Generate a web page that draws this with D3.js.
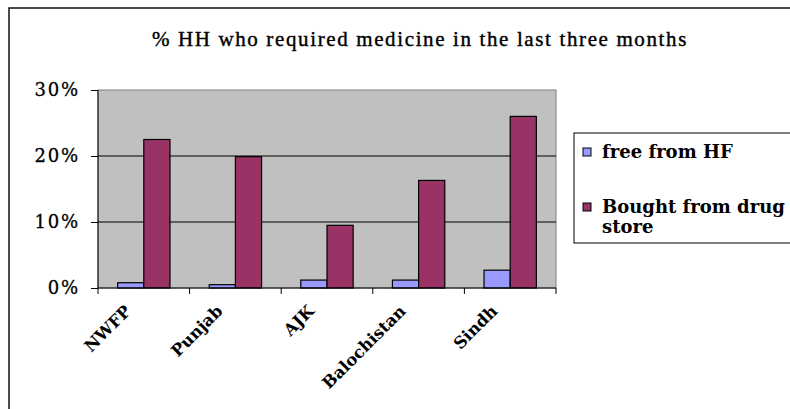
<!DOCTYPE html>
<html><head><meta charset="utf-8">
<script src="https://cdn.jsdelivr.net/npm/d3@7"></script>
<style>body{margin:0;background:#fff}svg{display:block}</style>
</head><body>
<script>
const categories = ["NWFP","Punjab","AJK","Balochistan","Sindh"];
const seriesNames = ["free from HF","Bought from drug store"];
const freeFromHF = [0.8, 0.5, 1.2, 1.2, 2.7];
const boughtFromStore = [22.5, 19.9, 9.5, 16.3, 26.0];
const yTicks = [0, 10, 20, 30];
const colors = ["#9999FF","#993366"];
const title = "% HH who required medicine in the last three months";

const W = 790, H = 409;
const svg = d3.select("body").append("svg").attr("width", W).attr("height", H);
const font = "'DejaVu Serif', serif";
const font2 = "'Liberation Serif', serif";

// outer frame
svg.append("rect").attr("x",9).attr("y",8).attr("width",W).attr("height",H)
  .attr("fill","none").attr("stroke","#111").attr("stroke-width",1.5);

const tt = svg.append("text").attr("x",420).attr("y",46).attr("text-anchor","middle")
  .attr("font-family",font2).attr("font-size",21).attr("fill","#000")
  .attr("stroke","#000").attr("stroke-width",0.4).text(title);
const tw = tt.node().getComputedTextLength();
tt.attr("letter-spacing", Math.max(0, (536 - tw) / title.length));

const m = {l:98, r:556, t:90, b:288};
const x = d3.scaleBand().domain(categories).range([m.l, m.r]).paddingInner(0).paddingOuter(0);
const bw = x.bandwidth()/3.5;
const xs = d3.scaleBand().domain([0,1]).range([0.75*bw, 2.75*bw]);
const y = d3.scaleLinear().domain([0,30]).range([m.b, m.t]);

svg.append("rect").attr("x",m.l).attr("y",m.t).attr("width",m.r-m.l).attr("height",m.b-m.t)
  .attr("fill","#C0C0C0").attr("stroke","#808080").attr("stroke-width",1);

// gridlines
svg.append("g").selectAll("line").data(yTicks.filter(d=>d>0 && d<30)).join("line")
  .attr("x1",m.l).attr("x2",m.r).attr("y1",d=>y(d)).attr("y2",d=>y(d))
  .attr("stroke","#000").attr("stroke-width",1);

const data = categories.map((c,i)=>({c, v:[freeFromHF[i], boughtFromStore[i]]}));
const g = svg.append("g").selectAll("g").data(data).join("g")
  .attr("transform", d=>`translate(${x(d.c)},0)`);
g.selectAll("rect").data(d=>d.v.map((v,k)=>({v,k}))).join("rect")
  .attr("x",d=>xs(d.k)).attr("width",xs.bandwidth())
  .attr("y",d=>y(d.v)).attr("height",d=>y(0)-y(d.v))
  .attr("fill",d=>colors[d.k]).attr("stroke","#000").attr("stroke-width",1.2);

// y axis
const yAxis = d3.axisLeft(y).tickValues(yTicks).tickSize(7).tickPadding(11).tickFormat(d=>d+"%");
const ya = svg.append("g").attr("transform",`translate(${m.l},0)`).call(yAxis);
ya.select(".domain").attr("stroke","#000").attr("d",`M0,${m.t}V${m.b}`);
ya.selectAll(".tick line").attr("stroke","#000");
ya.selectAll(".tick text").attr("font-family",font)
  .attr("font-size",18).attr("fill","#000").attr("letter-spacing",1.8)
  .attr("stroke","#000").attr("stroke-width",0.3);

// x axis
const xa = svg.append("g").attr("transform",`translate(0,${m.b})`);
xa.append("line").attr("x1",m.l).attr("x2",m.r).attr("stroke","#000");
const bounds = categories.map(c=>x(c)).concat([m.r]);
xa.selectAll("line.tk").data(bounds).join("line").attr("class","tk")
  .attr("x1",d=>d).attr("x2",d=>d).attr("y1",0).attr("y2",6).attr("stroke","#000");
xa.selectAll("text").data(categories).join("text")
  .attr("transform",d=>`translate(${x(d)+x.bandwidth()/2-20},${16}) rotate(-45)`)
  .attr("text-anchor","end").attr("dy","0.7em")
  .attr("font-family",font).attr("font-size",16.5).attr("font-weight","bold").attr("fill","#000").text(d=>d);

// legend
const lg = svg.append("g");
lg.append("rect").attr("x",574).attr("y",133).attr("width",240).attr("height",110)
  .attr("fill","#fff").attr("stroke","#000").attr("stroke-width",1);
const items = [{y:152, lines:[seriesNames[0]]},{y:207, lines:["Bought from drug","store"]}];
items.forEach((it,k)=>{
  lg.append("rect").attr("x",583).attr("y",it.y-4).attr("width",8).attr("height",8)
    .attr("fill",colors[k]).attr("stroke","#000").attr("stroke-width",1);
  const t = lg.append("text").attr("x",602).attr("y",it.y+6).attr("font-family",font)
    .attr("font-size",18).attr("font-weight","bold").attr("fill","#000");
  it.lines.forEach((l,j)=>t.append("tspan").attr("x",602).attr("dy",j?20:0).text(l));
});
</script>
</body></html>
